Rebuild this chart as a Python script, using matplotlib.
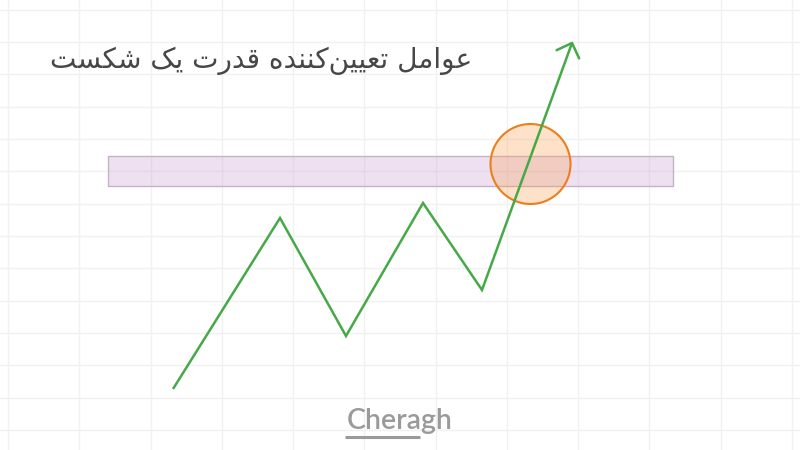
import numpy as np
import matplotlib
matplotlib.use("Agg")
from matplotlib import pyplot as plt
from matplotlib import patches

# Price path (pixel coordinates, y grows downward)
path_x = [173, 280, 346, 423, 482, 572]
path_y = [389, 218, 336, 203, 290, 43]

# Breakout zone and the highlight circle
zone_x = [108, 673]
zone_y = [156, 185.5]
circle_center = (530.5, 164)
circle_radius = 40

title_text = "عوامل تعیین‌کننده قدرت یک شکست"
logo_text = "Cheragh"

# Arabic presentation forms: isolated, final, initial, medial (None = right-joining only)
FORMS = {
    "\u0639": ("\uFEC9", "\uFECA", "\uFECB", "\uFECC"),
    "\u0648": ("\uFEED", "\uFEEE", None, None),
    "\u0627": ("\uFE8D", "\uFE8E", None, None),
    "\u0645": ("\uFEE1", "\uFEE2", "\uFEE3", "\uFEE4"),
    "\u0644": ("\uFEDD", "\uFEDE", "\uFEDF", "\uFEE0"),
    "\u062A": ("\uFE95", "\uFE96", "\uFE97", "\uFE98"),
    "\u06CC": ("\uFBFC", "\uFBFD", "\uFBFE", "\uFBFF"),
    "\u0646": ("\uFEE5", "\uFEE6", "\uFEE7", "\uFEE8"),
    "\u06A9": ("\uFB8E", "\uFB8F", "\uFB90", "\uFB91"),
    "\u062F": ("\uFEA9", "\uFEAA", None, None),
    "\u0647": ("\uFEE9", "\uFEEA", "\uFEEB", "\uFEEC"),
    "\u0642": ("\uFED5", "\uFED6", "\uFED7", "\uFED8"),
    "\u0631": ("\uFEAD", "\uFEAE", None, None),
    "\u0634": ("\uFEB5", "\uFEB6", "\uFEB7", "\uFEB8"),
    "\u0633": ("\uFEB1", "\uFEB2", "\uFEB3", "\uFEB4"),
}


def shape_rtl(s):
    out = []
    n = len(s)
    for i, ch in enumerate(s):
        if ch not in FORMS:
            if ch != "\u200c":
                out.append(ch)
            continue
        prev = s[i - 1] if i > 0 else None
        nxt = s[i + 1] if i < n - 1 else None
        # previous letter joins to this one if it has an initial form
        join_prev = prev in FORMS and FORMS[prev][2] is not None
        join_next = nxt in FORMS and FORMS[ch][2] is not None
        f = FORMS[ch]
        if join_prev and join_next:
            out.append(f[3])
        elif join_prev:
            out.append(f[1])
        elif join_next:
            out.append(f[2])
        else:
            out.append(f[0])
    return "".join(reversed(out))


fig = plt.figure(figsize=(8, 4.5), dpi=100)
ax = fig.add_axes([0, 0, 1, 1])
ax.set_xlim(0, 800)
ax.set_ylim(450, 0)

# light background grid
ax.set_xticks(np.arange(8, 800, 71.27))
ax.set_yticks(np.arange(9.5, 450, 32.35))
ax.grid(True, color="#f1f1f1", linewidth=1.0)
ax.tick_params(length=0, labelbottom=False, labelleft=False)
for sp in ax.spines.values():
    sp.set_visible(False)
ax.set_axisbelow(True)

rect = patches.Rectangle((zone_x[0], zone_y[0]), zone_x[1] - zone_x[0], zone_y[1] - zone_y[0],
                         facecolor=(0.78, 0.59, 0.82, 0.3), edgecolor="#c4b2c8", linewidth=1.0, zorder=2)
ax.add_patch(rect)

circ = patches.Circle(circle_center, circle_radius, facecolor=(0.98, 0.63, 0.31, 0.3),
                      edgecolor="#ec7f1c", linewidth=1.5, zorder=3)
ax.add_patch(circ)

green = "#46a947"
ax.plot(path_x, path_y, color=green, linewidth=1.8, solid_capstyle="butt", solid_joinstyle="miter", zorder=4)

# open arrow head at the end of the path
tip = np.array([path_x[-1], path_y[-1]], dtype=float)
back = np.array([path_x[-2], path_y[-2]], dtype=float) - tip
back = back / np.hypot(*back)
for ang in (45, -45):
    a = np.radians(ang)
    rot = np.array([[np.cos(a), -np.sin(a)], [np.sin(a), np.cos(a)]])
    end = tip + 17 * rot.dot(back)
    ax.plot([tip[0], end[0]], [tip[1], end[1]], color=green, linewidth=1.8,
            solid_capstyle="round", zorder=4)

ax.text(472, 61, shape_rtl(title_text), fontsize=20.2, color="#474747",
        family="DejaVu Sans", ha="right", va="center")

ax.text(400, 421, logo_text, fontsize=20.5, color="#9a9a9a", family="Lato",
        fontweight="semibold", ha="center", va="center")
ax.plot([345, 420], [437, 437], color="#9a9a9a", linewidth=2.2, solid_capstyle="butt")

fig.savefig("out.png", dpi=100)
